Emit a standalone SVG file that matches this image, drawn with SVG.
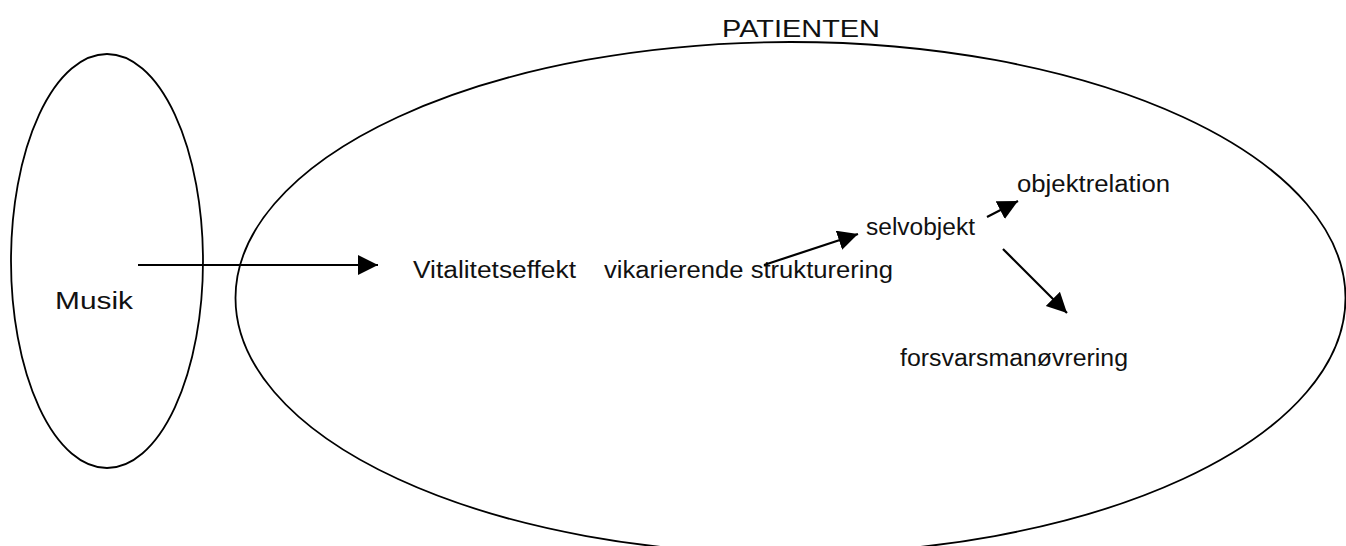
<svg xmlns="http://www.w3.org/2000/svg" width="1346" height="546" viewBox="0 0 1346 546">
  <style>
    .shape { fill: none; stroke: #000; stroke-width: 1.8; }
    .link { fill: none; stroke: #000; stroke-width: 2.2; marker-end: url(#head); }
    .lbl { font-family: "Liberation Sans", Arial, sans-serif; font-size: 23px; fill: #111; }
  </style>
  <defs>
    <marker id="head" markerUnits="userSpaceOnUse" markerWidth="22" markerHeight="22" refX="20" refY="10" orient="auto" viewBox="0 0 22 22">
      <path d="M0,0 L20,10 L0,20 z" fill="#000"/>
    </marker>
  </defs>
  <rect width="1346" height="546" fill="#fff"/>

  <!-- source: the music -->
  <g id="musik">
    <ellipse class="shape" cx="107" cy="261" rx="96" ry="207"/>
    <text class="lbl" x="55" y="309" font-size="29" textLength="78" lengthAdjust="spacingAndGlyphs">Musik</text>
  </g>

  <!-- the patient -->
  <g id="patienten">
    <ellipse class="shape" cx="790.5" cy="298" rx="555" ry="256"/>
    <text class="lbl" x="722" y="37" font-size="26" textLength="158" lengthAdjust="spacingAndGlyphs">PATIENTEN</text>
  </g>

  <g id="vitalitetseffekt">
    <text class="lbl" x="413" y="278" textLength="163" lengthAdjust="spacingAndGlyphs">Vitalitetseffekt</text>
  </g>

  <g id="vikarierende">
    <text class="lbl" x="604" y="278" textLength="289" lengthAdjust="spacingAndGlyphs">vikarierende strukturering</text>
  </g>

  <g id="selvobjekt">
    <text class="lbl" x="866" y="235" textLength="109" lengthAdjust="spacingAndGlyphs">selvobjekt</text>
  </g>

  <g id="objektrelation">
    <text class="lbl" x="1017" y="192" textLength="153" lengthAdjust="spacingAndGlyphs">objektrelation</text>
  </g>

  <g id="forsvar">
    <text class="lbl" x="900" y="366" textLength="228" lengthAdjust="spacingAndGlyphs">forsvarsmanøvrering</text>
  </g>

  <!-- connectors -->
  <g id="connectors">
    <line class="link" x1="138" y1="265" x2="378" y2="265"/>
    <line class="link" x1="764" y1="265" x2="858" y2="234"/>
    <line class="link" x1="987" y1="217" x2="1018" y2="201"/>
    <line class="link" x1="1003" y1="249" x2="1067" y2="313"/>
  </g>
</svg>
